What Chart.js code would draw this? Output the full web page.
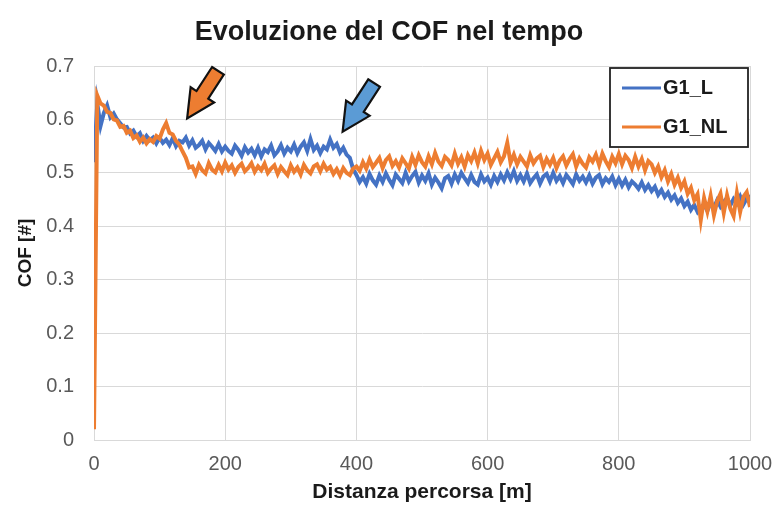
<!DOCTYPE html>
<html>
<head>
<meta charset="utf-8">
<script src="https://cdn.jsdelivr.net/npm/chart.js@4"></script>
<style>
  html, body { margin: 0; padding: 0; background: #fff; }
  #wrap { width: 778px; height: 511px; }
</style>
</head>
<body>
<div id="wrap"><canvas id="cof-chart"></canvas></div>
<script>
// Distanza percorsa [m] (campioni ogni 5 m)
const distanze = [
    0, 5, 10, 15, 20, 25, 30, 35, 40, 45,
    50, 55, 60, 65, 70, 75, 80, 85, 90, 95,
    100, 105, 110, 115, 120, 125, 130, 135, 140, 145,
    150, 155, 160, 165, 170, 175, 180, 185, 190, 195,
    200, 205, 210, 215, 220, 225, 230, 235, 240, 245,
    250, 255, 260, 265, 270, 275, 280, 285, 290, 295,
    300, 305, 310, 315, 320, 325, 330, 335, 340, 345,
    350, 355, 360, 365, 370, 375, 380, 385, 390, 395,
    400, 405, 410, 415, 420, 425, 430, 435, 440, 445,
    450, 455, 460, 465, 470, 475, 480, 485, 490, 495,
    500, 505, 510, 515, 520, 525, 530, 535, 540, 545,
    550, 555, 560, 565, 570, 575, 580, 585, 590, 595,
    600, 605, 610, 615, 620, 625, 630, 635, 640, 645,
    650, 655, 660, 665, 670, 675, 680, 685, 690, 695,
    700, 705, 710, 715, 720, 725, 730, 735, 740, 745,
    750, 755, 760, 765, 770, 775, 780, 785, 790, 795,
    800, 805, 810, 815, 820, 825, 830, 835, 840, 845,
    850, 855, 860, 865, 870, 875, 880, 885, 890, 895,
    900, 905, 910, 915, 920, 925, 930, 935, 940, 945,
    950, 955, 960, 965, 970, 975, 980, 985, 990, 995,
    1000
];

// COF serie G1_L (blu)
const cofG1L = [
    0.520, 0.630, 0.588, 0.612, 0.626, 0.604, 0.611, 0.600, 0.593, 0.585,
    0.586, 0.574, 0.579, 0.568, 0.574, 0.560, 0.569, 0.561, 0.566, 0.555,
    0.566, 0.556, 0.562, 0.552, 0.565, 0.550, 0.560, 0.557, 0.566, 0.551,
    0.561, 0.547, 0.552, 0.560, 0.544, 0.556, 0.549, 0.541, 0.554, 0.540,
    0.549, 0.541, 0.536, 0.551, 0.543, 0.532, 0.548, 0.538, 0.545, 0.533,
    0.547, 0.531, 0.544, 0.539, 0.551, 0.533, 0.540, 0.552, 0.536, 0.547,
    0.540, 0.553, 0.537, 0.549, 0.557, 0.541, 0.563, 0.543, 0.551, 0.537,
    0.549, 0.544, 0.562, 0.547, 0.554, 0.538, 0.547, 0.534, 0.528, 0.507,
    0.496, 0.483, 0.492, 0.480, 0.498, 0.486, 0.478, 0.495, 0.483, 0.499,
    0.487, 0.477, 0.497, 0.489, 0.481, 0.500, 0.484, 0.494, 0.502, 0.482,
    0.495, 0.485, 0.499, 0.478, 0.491, 0.482, 0.471, 0.490, 0.494, 0.480,
    0.497, 0.485, 0.500, 0.490, 0.481, 0.496, 0.483, 0.478, 0.497, 0.484,
    0.491, 0.478, 0.494, 0.483, 0.497, 0.486, 0.501, 0.488, 0.503, 0.485,
    0.496, 0.484, 0.499, 0.481, 0.490, 0.497, 0.480, 0.493, 0.498, 0.484,
    0.500, 0.485, 0.494, 0.481, 0.496, 0.488, 0.479, 0.497, 0.485, 0.493,
    0.482, 0.495, 0.480, 0.491, 0.496, 0.479, 0.490, 0.483, 0.493, 0.477,
    0.489, 0.476, 0.487, 0.473, 0.484, 0.478, 0.470, 0.482, 0.468, 0.477,
    0.466, 0.474, 0.459, 0.468, 0.455, 0.463, 0.450, 0.458, 0.444, 0.452,
    0.438, 0.446, 0.431, 0.440, 0.427, 0.436, 0.441, 0.429, 0.445, 0.435,
    0.449, 0.437, 0.446, 0.453, 0.439, 0.451, 0.443, 0.456, 0.441, 0.452,
    0.458
];

// COF serie G1_NL (arancio)
const cofG1NL = [
    0.020, 0.645, 0.630, 0.626, 0.614, 0.612, 0.600, 0.598, 0.586, 0.588,
    0.575, 0.579, 0.565, 0.570, 0.558, 0.566, 0.555, 0.563, 0.558, 0.569,
    0.564, 0.581, 0.593, 0.575, 0.572, 0.560, 0.553, 0.540, 0.528, 0.510,
    0.512, 0.498, 0.515, 0.505, 0.499, 0.518, 0.506, 0.501, 0.515, 0.503,
    0.519, 0.506, 0.514, 0.500, 0.511, 0.517, 0.503, 0.509, 0.518, 0.502,
    0.512, 0.505, 0.517, 0.500, 0.508, 0.514, 0.498, 0.511, 0.503, 0.496,
    0.514, 0.502, 0.510, 0.497, 0.515, 0.505, 0.499, 0.512, 0.516, 0.503,
    0.517, 0.506, 0.511, 0.498, 0.507, 0.495, 0.509, 0.500, 0.496, 0.508,
    0.512, 0.504, 0.520, 0.508, 0.525, 0.511, 0.519, 0.528, 0.509, 0.524,
    0.531, 0.513, 0.522, 0.510, 0.527, 0.518, 0.508, 0.530, 0.515, 0.533,
    0.520, 0.512, 0.531, 0.516, 0.537, 0.521, 0.513, 0.530, 0.524, 0.514,
    0.536, 0.517, 0.529, 0.512, 0.533, 0.522, 0.538, 0.518, 0.541, 0.524,
    0.536, 0.515, 0.527, 0.539, 0.520, 0.531, 0.556, 0.519, 0.534, 0.516,
    0.530, 0.521, 0.512, 0.533, 0.518, 0.527, 0.532, 0.511, 0.526, 0.515,
    0.528, 0.509, 0.523, 0.531, 0.514, 0.526, 0.535, 0.512, 0.527, 0.517,
    0.510, 0.529, 0.521, 0.534, 0.515, 0.536, 0.522, 0.511, 0.530, 0.518,
    0.535, 0.516, 0.532, 0.524, 0.509, 0.530, 0.512, 0.526, 0.505, 0.522,
    0.516, 0.500, 0.512, 0.492, 0.505, 0.484, 0.498, 0.478, 0.491, 0.472,
    0.484, 0.461, 0.472, 0.449, 0.460, 0.412, 0.453, 0.428, 0.457, 0.421,
    0.447, 0.461, 0.425, 0.458, 0.433, 0.419, 0.462, 0.427, 0.455, 0.464,
    0.436
];

const serieNomi = ['G1_L', 'G1_NL'];
const serieColori = ['#4472c4', '#ed7d31'];

// frecce: punta e coda in coordinate dati
const frecce = [
    { tip: [142, 0.602], tail: [189, 0.691], fill: '#ed7d31' },
    { tip: [379, 0.577], tail: [427, 0.668], fill: '#5b9bd5' }
];

const FONT = '"Liberation Sans", Arial, sans-serif';

function drawArrow(ctx, tx, ty, sx, sy, fill) {
    const dx = tx - sx, dy = ty - sy;
    const len = Math.sqrt(dx * dx + dy * dy);
    const ux = dx / len, uy = dy / len;
    const nx = -uy, ny = ux;
    const shaft = 7, head = 14, headLen = 28;
    const bx = tx - ux * headLen, by = ty - uy * headLen;
    const pts = [
        [sx + nx * shaft, sy + ny * shaft],
        [bx + nx * shaft, by + ny * shaft],
        [bx + nx * head, by + ny * head],
        [tx, ty],
        [bx - nx * head, by - ny * head],
        [bx - nx * shaft, by - ny * shaft],
        [sx - nx * shaft, sy - ny * shaft]
    ];
    ctx.beginPath();
    ctx.moveTo(pts[0][0], pts[0][1]);
    for (let i = 1; i < pts.length; i++) ctx.lineTo(pts[i][0], pts[i][1]);
    ctx.closePath();
    ctx.fillStyle = fill;
    ctx.fill();
    ctx.lineWidth = 2.2;
    ctx.lineJoin = 'miter';
    ctx.strokeStyle = '#111';
    ctx.stroke();
}

const decorPlugin = {
    id: 'decor',
    afterDraw(chart) {
        const ctx = chart.ctx;
        const xs = chart.scales.x, ys = chart.scales.y;
        ctx.save();

        // titolo centrato sulla pagina
        ctx.font = 'bold 27px ' + FONT;
        ctx.fillStyle = '#1a1a1a';
        ctx.textAlign = 'center';
        ctx.textBaseline = 'middle';
        ctx.fillText('Evoluzione del COF nel tempo', chart.width / 2, 33);

        frecce.forEach(f => {
            drawArrow(ctx,
                xs.getPixelForValue(f.tip[0]), ys.getPixelForValue(f.tip[1]),
                xs.getPixelForValue(f.tail[0]), ys.getPixelForValue(f.tail[1]),
                f.fill);
        });

        // legenda con riquadro
        const lx = 610, ly = 68, lw = 138, lh = 79;
        ctx.fillStyle = '#fff';
        ctx.fillRect(lx, ly, lw, lh);
        ctx.lineWidth = 1.8;
        ctx.strokeStyle = '#222';
        ctx.strokeRect(lx, ly, lw, lh);
        ctx.font = 'bold 20px ' + FONT;
        ctx.textBaseline = 'middle';
        ctx.textAlign = 'left';
        serieNomi.forEach((nome, i) => {
            const y = ly + 20 + i * 39;
            ctx.strokeStyle = serieColori[i];
            ctx.lineWidth = 3;
            ctx.beginPath();
            ctx.moveTo(lx + 12, y);
            ctx.lineTo(lx + 51, y);
            ctx.stroke();
            ctx.fillStyle = '#1a1a1a';
            ctx.fillText(nome, lx + 53, y);
        });
        ctx.restore();
    }
};

const ctx = document.getElementById('cof-chart').getContext('2d');
new Chart(ctx, {
    type: 'line',
    data: {
        labels: distanze,
        datasets: [
            {
                label: serieNomi[0],
                data: cofG1L,
                borderColor: serieColori[0],
                borderWidth: 4,
                pointRadius: 0,
                tension: 0,
                order: 1
            },
            {
                label: serieNomi[1],
                data: cofG1NL,
                borderColor: serieColori[1],
                borderWidth: 4,
                pointRadius: 0,
                tension: 0,
                order: 0
            }
        ]
    },
    options: {
        responsive: true,
        maintainAspectRatio: false,
        animation: false,
        layout: { padding: { left: 0, right: 28, top: 66, bottom: 0 } },
        plugins: {
            legend: { display: false },
            tooltip: { enabled: false },
            title: { display: false }
        },
        scales: {
            x: {
                type: 'linear',
                min: 0,
                max: 1000,
                ticks: {
                    stepSize: 200,
                    color: '#595959',
                    font: { family: FONT, size: 20 },
                    padding: 12,
                    maxRotation: 0,
                    callback: v => String(v)
                },
                grid: { color: '#d9d9d9', drawTicks: false },
                border: { color: '#d9d9d9' },
                title: {
                    display: true,
                    text: 'Distanza percorsa [m]',
                    color: '#1a1a1a',
                    font: { family: FONT, size: 21, weight: 'bold' },
                    padding: { top: 0, bottom: 6 }
                },
                afterFit(scale) {
                    scale.height = 71;
                    scale.paddingLeft = 0;
                    scale.paddingRight = 0;
                }
            },
            y: {
                min: 0,
                max: 0.7,
                ticks: { stepSize: 0.1, color: '#595959', font: { family: FONT, size: 20 }, padding: 20 },
                grid: { color: '#d9d9d9', drawTicks: false },
                border: { color: '#d9d9d9' },
                title: {
                    display: true,
                    text: 'COF [#]',
                    color: '#1a1a1a',
                    font: { family: FONT, size: 19, weight: 'bold' },
                    padding: { top: 14, bottom: 0 }
                },
                afterFit(scale) { scale.width = 94; }
            }
        }
    },
    plugins: [decorPlugin]
});
</script>
</body>
</html>
